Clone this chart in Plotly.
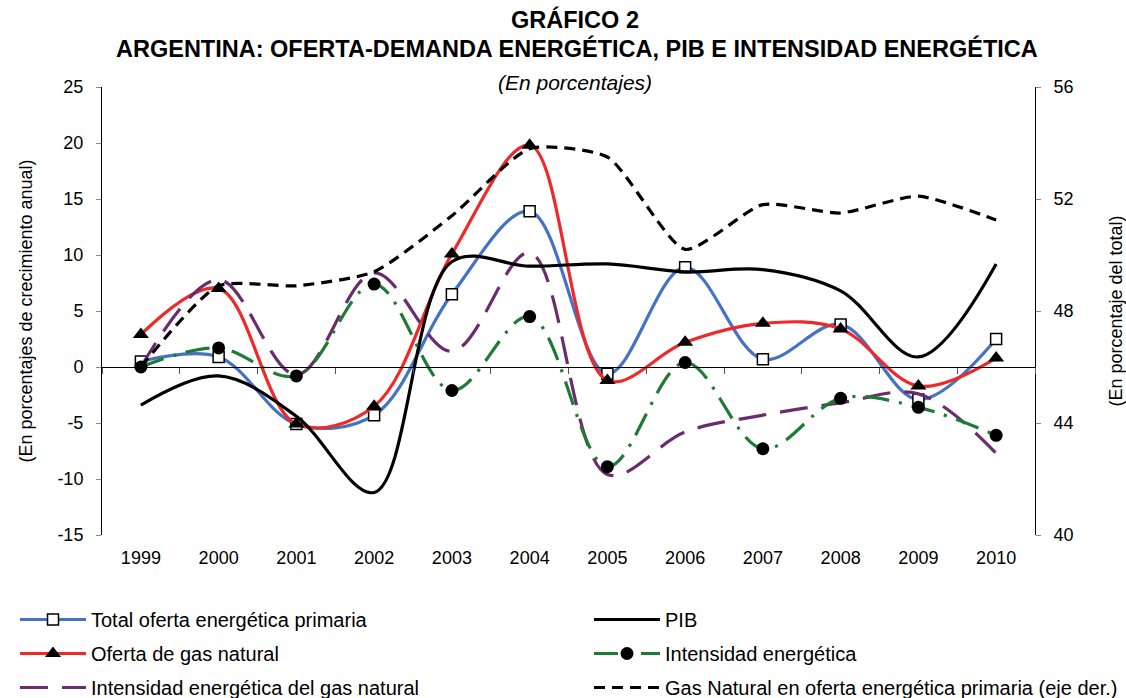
import plotly.graph_objects as go

years = ["1999", "2000", "2001", "2002", "2003", "2004", "2005", "2006", "2007", "2008", "2009", "2010"]
total_oferta = [0.5, 0.9, -5.1, -4.3, 6.5, 13.9, -0.6, 8.9, 0.7, 3.8, -2.9, 2.5]
oferta_gas = [2.9, 7.0, -5.1, -3.5, 10.1, 19.8, -1.2, 2.2, 3.9, 3.4, -1.7, 0.8]
pib = [-3.4, -0.8, -4.4, -11.2, 9.4, 9.0, 9.2, 8.5, 8.7, 6.8, 0.9, 9.2]
intensidad = [0.0, 1.7, -0.8, 7.4, -2.1, 4.5, -8.9, 0.4, -7.3, -2.8, -3.6, -6.1]
intensidad_gas = [0.0, 7.8, -0.7, 8.4, 1.4, 10.2, -9.6, -5.8, -4.3, -3.2, -2.4, -7.7]
gas_share = [46.0, 48.9, 48.9, 49.4, 51.4, 53.8, 53.5, 50.2, 51.8, 51.5, 52.1, 51.25]

left_ticks = [25, 20, 15, 10, 5, 0, -5, -10, -15]
right_ticks = [56, 52, 48, 44, 40]

FONT = "Liberation Sans, Arial, sans-serif"
W, H = 1126, 698
ML, MR, MT, MB = 102, 91, 87, 163
PW = W - ML - MR
PH = H - MT - MB

fig = go.Figure()

fig.add_trace(go.Scatter(
    x=years, y=total_oferta, name="Total oferta energética primaria", legend="legend",
    legendgroup="a", mode="lines+markers", line=dict(color="#4472C4", width=3.2, shape="spline"),
    marker=dict(symbol="square", size=11, color="white", line=dict(color="black", width=1.5))))
fig.add_trace(go.Scatter(
    x=years, y=oferta_gas, name="Oferta de gas natural", legend="legend",
    legendgroup="b", mode="lines+markers", line=dict(color="#F02828", width=3.2, shape="spline"),
    marker=dict(symbol="triangle-up", size=14, color="black")))
fig.add_trace(go.Scatter(
    x=years, y=intensidad_gas, name="Intensidad energética del gas natural", legend="legend",
    legendgroup="c", mode="lines", line=dict(color="#6B2C6E", width=3.2, shape="spline", dash="28px,14px")))
fig.add_trace(go.Scatter(
    x=years, y=pib, name="PIB", legend="legend2", legendgroup="d",
    mode="lines", line=dict(color="black", width=3.2, shape="spline")))
fig.add_trace(go.Scatter(
    x=years, y=intensidad, name="Intensidad energética", legend="legend2", legendgroup="e",
    mode="lines+markers", line=dict(color="#1E7B34", width=3.2, shape="spline", dash="24px,10px,3px,10px"),
    marker=dict(symbol="circle", size=13, color="black")))
fig.add_trace(go.Scatter(
    x=years, y=gas_share, name="Gas Natural en oferta energética primaria (eje der.)",
    legend="legend2", legendgroup="f", mode="lines", yaxis="y2",
    line=dict(color="black", width=3.2, shape="spline", smoothing=0.6, dash="11px,7px")))

# axis crossing at zero (category-boundary tick marks)
fig.add_trace(go.Scatter(x=years, y=[None] * len(years), xaxis="x2", showlegend=False,
                         hoverinfo="skip", mode="lines"))

leg_common = dict(orientation="v", xanchor="left", yanchor="top", yref="container",
                  itemwidth=66, tracegroupgap=5, font=dict(size=20, family=FONT),
                  bgcolor="rgba(0,0,0,0)", traceorder="grouped")

fig.update_layout(
    width=W, height=H,
    margin=dict(l=ML, r=MR, t=MT, b=MB, autoexpand=False),
    paper_bgcolor="white", plot_bgcolor="white",
    font=dict(family=FONT, size=18, color="black"),
    showlegend=True,
    legend=dict(x=(15 - ML) / PW, y=1 - 600 / H, **leg_common),
    legend2=dict(x=(589 - ML) / PW, y=1 - 600 / H, **leg_common),
    xaxis=dict(type="category", showline=False, ticks="", showgrid=False, automargin=False,
               tickfont=dict(size=18), range=[-0.5, 11.5], zeroline=False, ticklabelstandoff=10),
    xaxis2=dict(type="category", overlaying="x", anchor="free", position=15 / 40,
                matches="x", showline=True, linecolor="black", linewidth=1,
                ticks="outside", tickson="boundaries", ticklen=6, tickcolor="#555",
                showticklabels=False, showgrid=False, side="bottom", automargin=False),
    yaxis=dict(range=[-15, 25], tickvals=left_ticks, ticktext=[str(v) for v in left_ticks],
               showline=True, linecolor="black",
               linewidth=1, ticks="outside", ticklen=5, tickcolor="#888", showgrid=False,
               zeroline=False, automargin=False, tickfont=dict(size=18), ticklabelstandoff=9,
               title=dict(text="(En porcentajes de crecimiento anual)", font=dict(size=18), standoff=20)),
    yaxis2=dict(range=[40, 56], tickvals=right_ticks, ticktext=[str(v) for v in right_ticks],
                overlaying="y", side="right",
                showline=True, linecolor="black", linewidth=1, ticks="outside",
                ticklen=5, tickcolor="#888", showgrid=False, zeroline=False, automargin=False,
                tickfont=dict(size=18), ticklabelstandoff=9,
                title=dict(text="(En porcentaje del total)", font=dict(size=18), standoff=38)),
)

def py(pix):
    return (H - MB - pix) / PH

fig.add_annotation(text="<b>GRÁFICO 2</b>", x=(575 - ML) / PW, y=py(19), xref="paper", yref="paper",
                   showarrow=False, font=dict(size=23.5), yanchor="middle")
fig.add_annotation(text="<b>ARGENTINA: OFERTA-DEMANDA ENERGÉTICA, PIB E INTENSIDAD ENERGÉTICA</b>",
                   x=(577 - ML) / PW, y=py(48), xref="paper", yref="paper", showarrow=False,
                   font=dict(size=23.5), yanchor="middle")
fig.add_annotation(text="<i>(En porcentajes)</i>", x=(575 - ML) / PW, y=py(82), xref="paper", yref="paper",
                   showarrow=False, font=dict(size=21), yanchor="middle")

fig.write_html("out.html", config={"displayModeBar": False},
               post_script="document.body.style.margin='0';")
